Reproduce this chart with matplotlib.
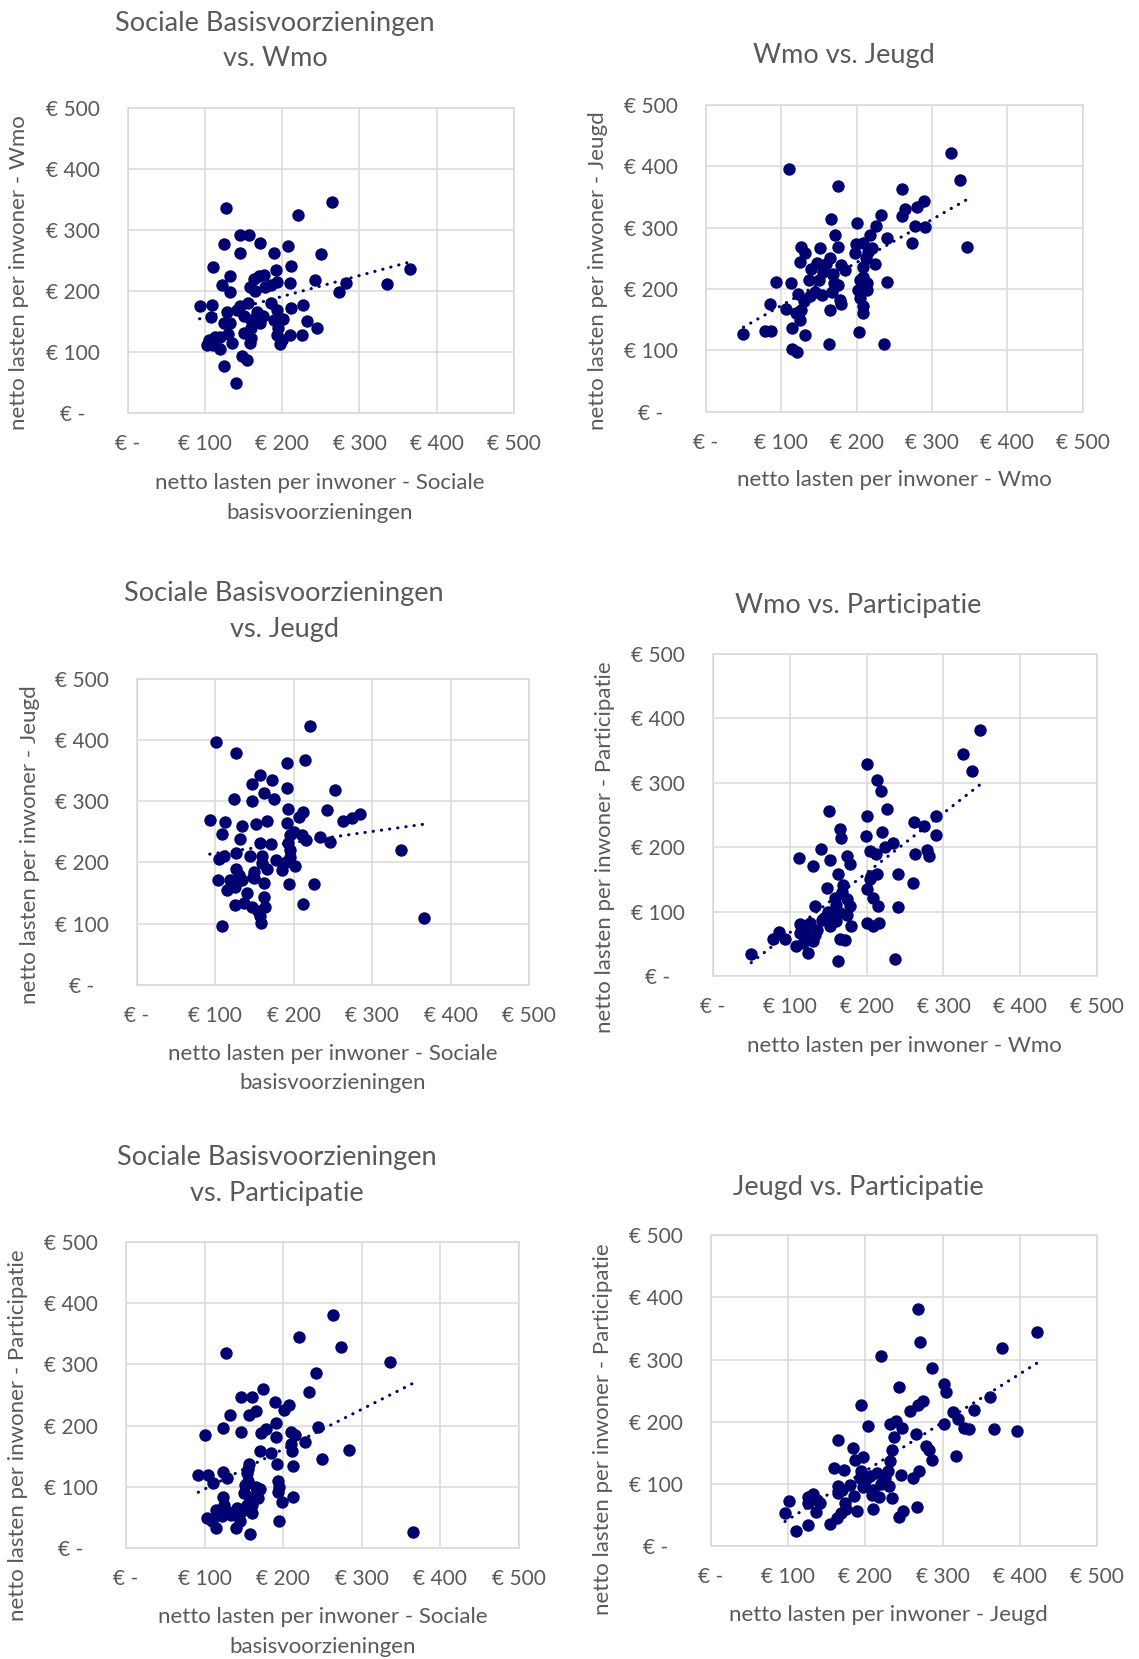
import matplotlib
matplotlib.use("Agg")
import matplotlib.pyplot as plt
import numpy as np

plt.rcParams['font.family'] = ['Lato', 'DejaVu Sans']

# ---------------- data (netto lasten per inwoner, euro) ----------------
tick_values = [0, 100, 200, 300, 400, 500]
tick_labels = ["€ -", "€ 100", "€ 200", "€ 300", "€ 400", "€ 500"]

# Panel 1: Sociale basisvoorzieningen (x) vs Wmo (y)
p1_x = [127, 264, 220, 146, 157, 124, 171, 146, 190, 207, 250, 110, 211, 192, 176, 163, 132, 122, 133, 158,
        178, 193, 210, 242, 283, 273, 336, 365, 93, 109, 108, 128, 141, 156, 167, 159, 171, 193, 212, 227,
        189, 201, 232, 245, 210, 225, 197, 193, 150, 160, 158, 124, 119, 102, 111, 119, 135, 148, 154, 125,
        140, 113, 132, 165, 185, 145, 175, 195, 200, 130, 150, 105, 170, 185, 160]
p1_y = [336, 346, 325, 291, 291, 277, 279, 263, 262, 274, 261, 240, 241, 234, 227, 220, 225, 210, 199, 207,
        207, 215, 213, 218, 213, 199, 212, 236, 176, 178, 158, 166, 169, 180, 165, 153, 147, 169, 172, 178,
        153, 155, 151, 140, 128, 128, 113, 128, 131, 123, 115, 147, 125, 112, 112, 106, 115, 93, 87, 77,
        49, 125, 147, 200, 210, 175, 160, 140, 120, 130, 160, 120, 225, 180, 140]

# Panel 2: Wmo (x) vs Jeugd (y)
p2_x = [325, 111, 337, 175, 261, 290, 280, 264, 260, 233, 201, 166, 226, 277, 291, 346, 171, 218, 241, 274,
        175, 127, 152, 199, 209, 132, 198, 220, 125, 147, 165, 179, 224, 139, 156, 209, 169, 137, 209, 240,
        93, 113, 176, 167, 214, 202, 214, 123, 138, 154, 178, 205, 85, 107, 127, 165, 180, 209, 208, 125,
        115, 132, 50, 79, 87, 203, 163, 237, 115, 121, 160, 150, 185, 145, 170, 212, 205, 130, 120, 215]
p2_y = [422, 396, 378, 367, 362, 343, 334, 330, 318, 321, 308, 314, 302, 302, 301, 269, 287, 288, 283, 274,
        269, 269, 266, 273, 274, 258, 258, 266, 244, 242, 250, 239, 240, 232, 228, 236, 225, 214, 220, 212,
        211, 209, 206, 195, 209, 198, 199, 192, 188, 190, 182, 185, 176, 168, 166, 166, 176, 172, 161, 149,
        137, 125, 127, 132, 132, 129, 111, 110, 102, 97, 240, 215, 230, 195, 210, 250, 215, 180, 160, 260]

# Panel 3: Sociale basisvoorzieningen (x) vs Jeugd (y)
p3_x = [221, 101, 127, 191, 214, 157, 172, 147, 192, 252, 162, 124, 147, 175, 193, 212, 207, 242, 284, 274,
        263, 93, 113, 134, 152, 166, 191, 108, 132, 157, 171, 195, 211, 233, 246, 193, 216, 337, 105, 111,
        127, 144, 178, 195, 202, 127, 159, 150, 185, 166, 103, 119, 134, 148, 115, 162, 194, 226, 125, 137,
        147, 162, 164, 212, 157, 158, 109, 366, 195, 200, 130, 150, 160, 140, 125, 155, 190]
p3_y = [422, 396, 378, 362, 367, 342, 334, 328, 321, 318, 313, 303, 301, 303, 287, 283, 275, 286, 279, 273,
        268, 269, 266, 260, 262, 267, 265, 246, 239, 232, 230, 245, 245, 242, 233, 232, 237, 221, 205, 211,
        215, 211, 204, 209, 195, 190, 199, 185, 187, 189, 172, 171, 171, 177, 155, 166, 165, 165, 131, 134,
        127, 143, 128, 132, 112, 101, 97, 110, 220, 250, 180, 175, 210, 150, 160, 120, 200]

# Panel 4: Wmo (x) vs Participatie (y)
p4_x = [347, 325, 337, 200, 213, 219, 151, 201, 227, 290, 262, 275, 290, 165, 167, 199, 220, 224, 235, 141,
        112, 130, 152, 175, 179, 205, 212, 263, 278, 281, 163, 206, 214, 241, 261, 149, 170, 159, 175, 179,
        200, 209, 215, 241, 133, 153, 166, 113, 127, 142, 153, 180, 201, 209, 216, 86, 78, 94, 113, 122,
        133, 108, 124, 165, 172, 50, 163, 237, 118, 120, 135, 145, 160, 168, 150, 130, 175, 205, 160]
p4_y = [382, 345, 319, 329, 305, 287, 256, 248, 259, 249, 239, 233, 219, 228, 215, 218, 224, 200, 206, 197,
        184, 171, 180, 187, 174, 194, 190, 189, 196, 187, 158, 155, 158, 158, 144, 137, 141, 121, 119, 108,
        135, 121, 109, 107, 108, 97, 98, 80, 82, 87, 77, 78, 82, 77, 82, 69, 57, 57, 66, 60,
        64, 46, 35, 57, 56, 34, 23, 26, 51, 75, 72, 90, 110, 130, 100, 55, 95, 150, 85]

# Panel 5: Sociale basisvoorzieningen (x) vs Participatie (y)
p5_x = [264, 220, 274, 127, 336, 242, 233, 175, 147, 160, 190, 207, 201, 165, 157, 133, 191, 124, 147, 172,
        178, 191, 210, 215, 245, 228, 100, 284, 250, 170, 184, 211, 213, 192, 156, 92, 105, 111, 123, 128,
        154, 151, 171, 193, 194, 212, 198, 124, 158, 154, 147, 160, 115, 103, 122, 134, 115, 140, 158, 195,
        366, 168, 141, 155, 150, 160, 130, 145, 165, 125, 195, 110, 155, 210]
p5_y = [381, 344, 329, 318, 304, 286, 255, 259, 247, 247, 239, 233, 226, 224, 218, 218, 205, 196, 189, 188,
        195, 181, 189, 184, 197, 173, 185, 161, 145, 158, 156, 158, 134, 137, 137, 120, 120, 106, 124, 114,
        122, 103, 96, 110, 92, 84, 76, 83, 84, 71, 60, 57, 62, 50, 53, 54, 33, 33, 23, 45,
        27, 82, 65, 110, 90, 70, 60, 45, 100, 70, 100, 45, 130, 170]

# Panel 6: Jeugd (x) vs Participatie (y)
p6_x = [268, 422, 271, 377, 220, 286, 244, 302, 304, 275, 268, 258, 361, 341, 194, 313, 320, 328, 334, 366,
        396, 302, 203, 232, 240, 247, 237, 265, 165, 184, 197, 187, 235, 279, 282, 286, 317, 232, 229, 246,
        261, 269, 160, 172, 206, 193, 215, 164, 180, 197, 230, 208, 218, 234, 165, 174, 189, 210, 249, 244,
        267, 169, 163, 154, 101, 96, 126, 132, 137, 142, 136, 126, 110, 126, 200, 220, 185, 175, 210, 195,
        170, 225]
p6_y = [381, 345, 329, 319, 305, 287, 256, 260, 248, 234, 227, 218, 239, 219, 227, 215, 205, 190, 188, 188,
        185, 196, 193, 197, 201, 190, 175, 180, 171, 157, 143, 138, 155, 161, 155, 139, 145, 136, 120, 114,
        109, 120, 125, 122, 112, 109, 117, 97, 98, 95, 97, 82, 79, 78, 85, 69, 56, 59, 56, 46,
        63, 53, 45, 35, 73, 53, 70, 84, 74, 70, 54, 34, 24, 79, 105, 100, 80, 60, 90, 120,
        90, 110]

titles = [["Sociale Basisvoorzieningen", "vs. Wmo"],
          ["Wmo vs. Jeugd"],
          ["Sociale Basisvoorzieningen", "vs. Jeugd"],
          ["Wmo vs. Participatie"],
          ["Sociale Basisvoorzieningen", "vs. Participatie"],
          ["Jeugd vs. Participatie"]]
xlabels = [["netto lasten per inwoner - Sociale", "basisvoorzieningen"],
           ["netto lasten per inwoner - Wmo"],
           ["netto lasten per inwoner - Sociale", "basisvoorzieningen"],
           ["netto lasten per inwoner - Wmo"],
           ["netto lasten per inwoner - Sociale", "basisvoorzieningen"],
           ["netto lasten per inwoner - Jeugd"]]
ylabels = ["netto lasten per inwoner - Wmo",
           "netto lasten per inwoner - Jeugd",
           "netto lasten per inwoner - Jeugd",
           "netto lasten per inwoner - Participatie",
           "netto lasten per inwoner - Participatie",
           "netto lasten per inwoner - Participatie"]
series = [(p1_x, p1_y), (p2_x, p2_y), (p3_x, p3_y), (p4_x, p4_y), (p5_x, p5_y), (p6_x, p6_y)]

# ---------------- layout (pixels) ----------------
W, H = 1139, 1659
axes_px = [(127.7, 107.7, 514.0, 413.3),
           (705.7, 104.7, 1082.7, 411.7),
           (136.7, 678.7, 529.3, 985.0),
           (712.7, 654.0, 1097.3, 976.0),
           (126.0, 1241.7, 518.7, 1548.3),
           (710.7, 1235.3, 1097.3, 1546.0)]
title_px = [(275, [23, 59]), (844, [55]), (284, [594, 629]), (858, [606]), (277, [1157, 1193]), (858, [1187])]
xlabel_px = [(320, [483, 513]), (894, [480]), (333, [1054, 1083]), (904, [1046]), (323, [1617, 1647]), (888, [1615])]
ylabel_px = [(19, 273), (598, 271), (30, 845), (605, 847), (18, 1435), (603, 1429)]

TXT = '#595959'
GRID = '#D9D9D9'
DOT = '#000070'

fig = plt.figure(figsize=(W / 100, H / 100), dpi=100)


def ftxt(x, y, s, **kw):
    fig.text(x / W, 1 - y / H, s, ha='center', va='center', color=TXT, **kw)


for i, ((x0, y0, x1, y1), (xs, ys)) in enumerate(zip(axes_px, series)):
    ax = fig.add_axes([x0 / W, 1 - y1 / H, (x1 - x0) / W, (y1 - y0) / H])
    ax.set_xlim(0, 500)
    ax.set_ylim(0, 500)
    ax.set_xticks(tick_values, tick_labels)
    ax.set_yticks(tick_values, tick_labels)
    ax.grid(True, color=GRID, linewidth=1.1, zorder=0)
    ax.set_axisbelow(True)
    for sp in ax.spines.values():
        sp.set_color(GRID)
        sp.set_linewidth(1.1)
    ax.tick_params(length=0, labelsize=15, labelcolor=TXT)
    ax.tick_params(axis='y', pad=39.6)
    ax.tick_params(axis='x', pad=22.3)
    for lbl in ax.get_yticklabels():
        lbl.set_horizontalalignment('center')
    for lbl in ax.get_xticklabels():
        lbl.set_verticalalignment('center')

    xa = np.array(xs, float)
    ya = np.array(ys, float)
    ax.scatter(xa, ya, s=80, color=DOT, linewidths=0, zorder=3)
    k, b = np.polyfit(xa, ya, 1)
    xl = np.array([xa.min(), xa.max()])
    ax.plot(xl, k * xl + b, color=DOT, linewidth=2.2, linestyle=(0, (0.1, 2.6)),
            dash_capstyle='round', zorder=4)

    tx, tys = title_px[i]
    for line, ty in zip(titles[i], tys):
        ftxt(tx, ty, line, fontsize=19.5)
    lx, lys = xlabel_px[i]
    for line, ly in zip(xlabels[i], lys):
        ftxt(lx, ly, line, fontsize=16)
    yx, yy = ylabel_px[i]
    ftxt(yx, yy, ylabels[i], fontsize=16, rotation=90)

fig.savefig("out.png", dpi=100, facecolor='white')
